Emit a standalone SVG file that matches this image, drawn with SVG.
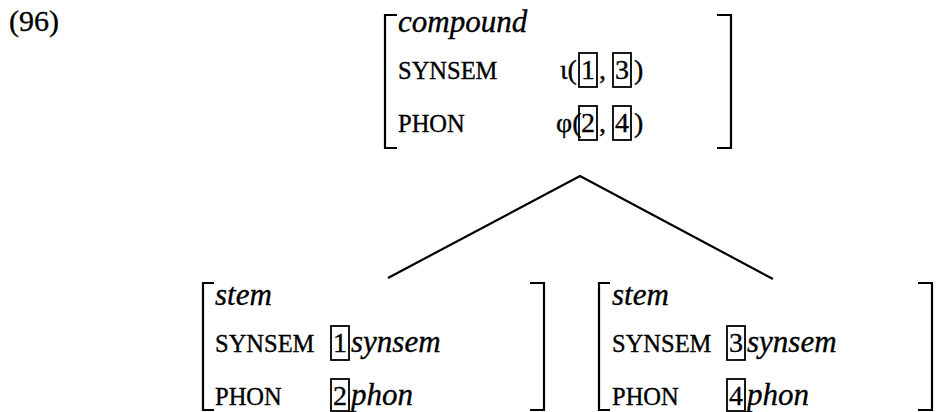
<svg xmlns="http://www.w3.org/2000/svg" width="941" height="412" viewBox="0 0 941 412">
<style>
text{font-family:"Liberation Serif","Times New Roman",serif;fill:#000;stroke:#000;stroke-width:0.35}
.it{font-style:italic;font-size:31px}
.sc{font-size:24.5px}
.v{font-size:28px}
.n{font-size:28px;text-anchor:middle}
.br{fill:none;stroke:#000;stroke-width:2.2}
.bx{fill:none;stroke:#000;stroke-width:1.8}
.ln{fill:none;stroke:#000;stroke-width:2.2}
</style>
<rect width="941" height="412" fill="#fff"/>
<text x="9" y="31" style="font-size:30px">(96)</text>
<g id="compound">
<path class="br" d="M397,15 H385 V148 H397"/>
<path class="br" d="M717,15 H731 V148 H717"/>
<text class="it" x="398" y="32">compound</text>
<text class="sc" x="398" y="79">SYNSEM</text>
<text class="sc" x="398" y="132">PHON</text>
<text class="v" x="560" y="79">ι(</text>
<rect class="bx" x="579" y="53" width="18" height="34"/>
<text class="n" x="588" y="79">1</text>
<text class="v" x="599" y="79">,</text>
<rect class="bx" x="613" y="53" width="18" height="34"/>
<text class="n" x="622" y="79">3</text>
<text class="v" x="634" y="79">)</text>
<text class="v" x="556" y="132">φ(</text>
<rect class="bx" x="579" y="106" width="18" height="34"/>
<text class="n" x="588" y="132">2</text>
<text class="v" x="599" y="132">,</text>
<rect class="bx" x="613" y="106" width="18" height="34"/>
<text class="n" x="622" y="132">4</text>
<text class="v" x="634" y="132">)</text>
</g>
<g id="connectors">
<path class="ln" d="M388,278 L580,176 L773,279"/>
</g>
<g id="stem1">
<path class="br" d="M214,283 H203 V410 H214"/>
<path class="br" d="M530,283 H544 V410 H530"/>
<text class="it" x="215" y="305">stem</text>
<text class="sc" x="215" y="352">SYNSEM</text>
<text class="sc" x="215" y="405">PHON</text>
<rect class="bx" x="331" y="326" width="18" height="34"/>
<text class="n" x="340" y="352">1</text>
<text class="it" x="351" y="352">synsem</text>
<rect class="bx" x="331" y="379" width="18" height="32"/>
<text class="n" x="340" y="405">2</text>
<text class="it" x="351" y="405">phon</text>
</g>
<g id="stem2">
<path class="br" d="M610,283 H599 V410 H610"/>
<path class="br" d="M918,283 H932 V410 H918"/>
<text class="it" x="612" y="305">stem</text>
<text class="sc" x="612" y="352">SYNSEM</text>
<text class="sc" x="612" y="405">PHON</text>
<rect class="bx" x="727" y="326" width="18" height="34"/>
<text class="n" x="736" y="352">3</text>
<text class="it" x="747" y="352">synsem</text>
<rect class="bx" x="727" y="379" width="18" height="32"/>
<text class="n" x="736" y="405">4</text>
<text class="it" x="747" y="405">phon</text>
</g>
</svg>
